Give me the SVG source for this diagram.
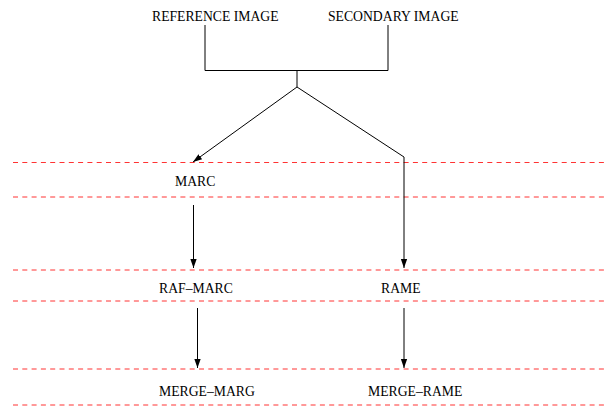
<svg xmlns="http://www.w3.org/2000/svg" width="607" height="411" viewBox="0 0 607 411">
<style>
.lbl{font-family:"Liberation Serif","Times New Roman",serif;font-size:13.7px;fill:#000}
.sep{stroke:#f33;stroke-width:1;stroke-dasharray:5 4.3;fill:none}
.ln{stroke:#000;stroke-width:1;fill:none}
</style>
<defs>
<marker id="ah" viewBox="0 0 10 10" refX="10" refY="5" markerWidth="9" markerHeight="9" markerUnits="userSpaceOnUse" orient="auto">
<path d="M0,1.5 L10,5 L0,8.5 Z" fill="#000"/>
</marker>
</defs>
<rect width="607" height="411" fill="#fff"/>
<g id="separators">
<line class="sep" x1="13" y1="162.5" x2="607" y2="162.5"/>
<line class="sep" x1="13" y1="197" x2="607" y2="197"/>
<line class="sep" x1="13" y1="270" x2="607" y2="270"/>
<line class="sep" x1="13" y1="301" x2="607" y2="301"/>
<line class="sep" x1="13" y1="369" x2="607" y2="369"/>
<line class="sep" x1="13" y1="405" x2="607" y2="405"/>
</g>
<g id="connectors">
<path class="ln" d="M205,25 V70.5 H388 V25"/>
<path class="ln" d="M297,70.5 V87"/>
<path class="ln" d="M297,87 L193,162" marker-end="url(#ah)"/>
<path class="ln" d="M297,87 L404,157 V268" marker-end="url(#ah)"/>
<path class="ln" d="M193.5,205 V268" marker-end="url(#ah)"/>
<path class="ln" d="M197.5,308 V368" marker-end="url(#ah)"/>
<path class="ln" d="M404,308 V368" marker-end="url(#ah)"/>
</g>
<g id="reference-image"><text class="lbl" x="152" y="21">REFERENCE IMAGE</text></g>
<g id="secondary-image"><text class="lbl" x="328" y="21">SECONDARY IMAGE</text></g>
<g id="marc"><text class="lbl" x="175" y="186">MARC</text></g>
<g id="raf-marc"><text class="lbl" x="159" y="293">RAF–MARC</text></g>
<g id="rame"><text class="lbl" x="381" y="293">RAME</text></g>
<g id="merge-marg"><text class="lbl" x="159" y="396">MERGE–MARG</text></g>
<g id="merge-rame"><text class="lbl" x="368" y="396">MERGE–RAME</text></g>
</svg>
